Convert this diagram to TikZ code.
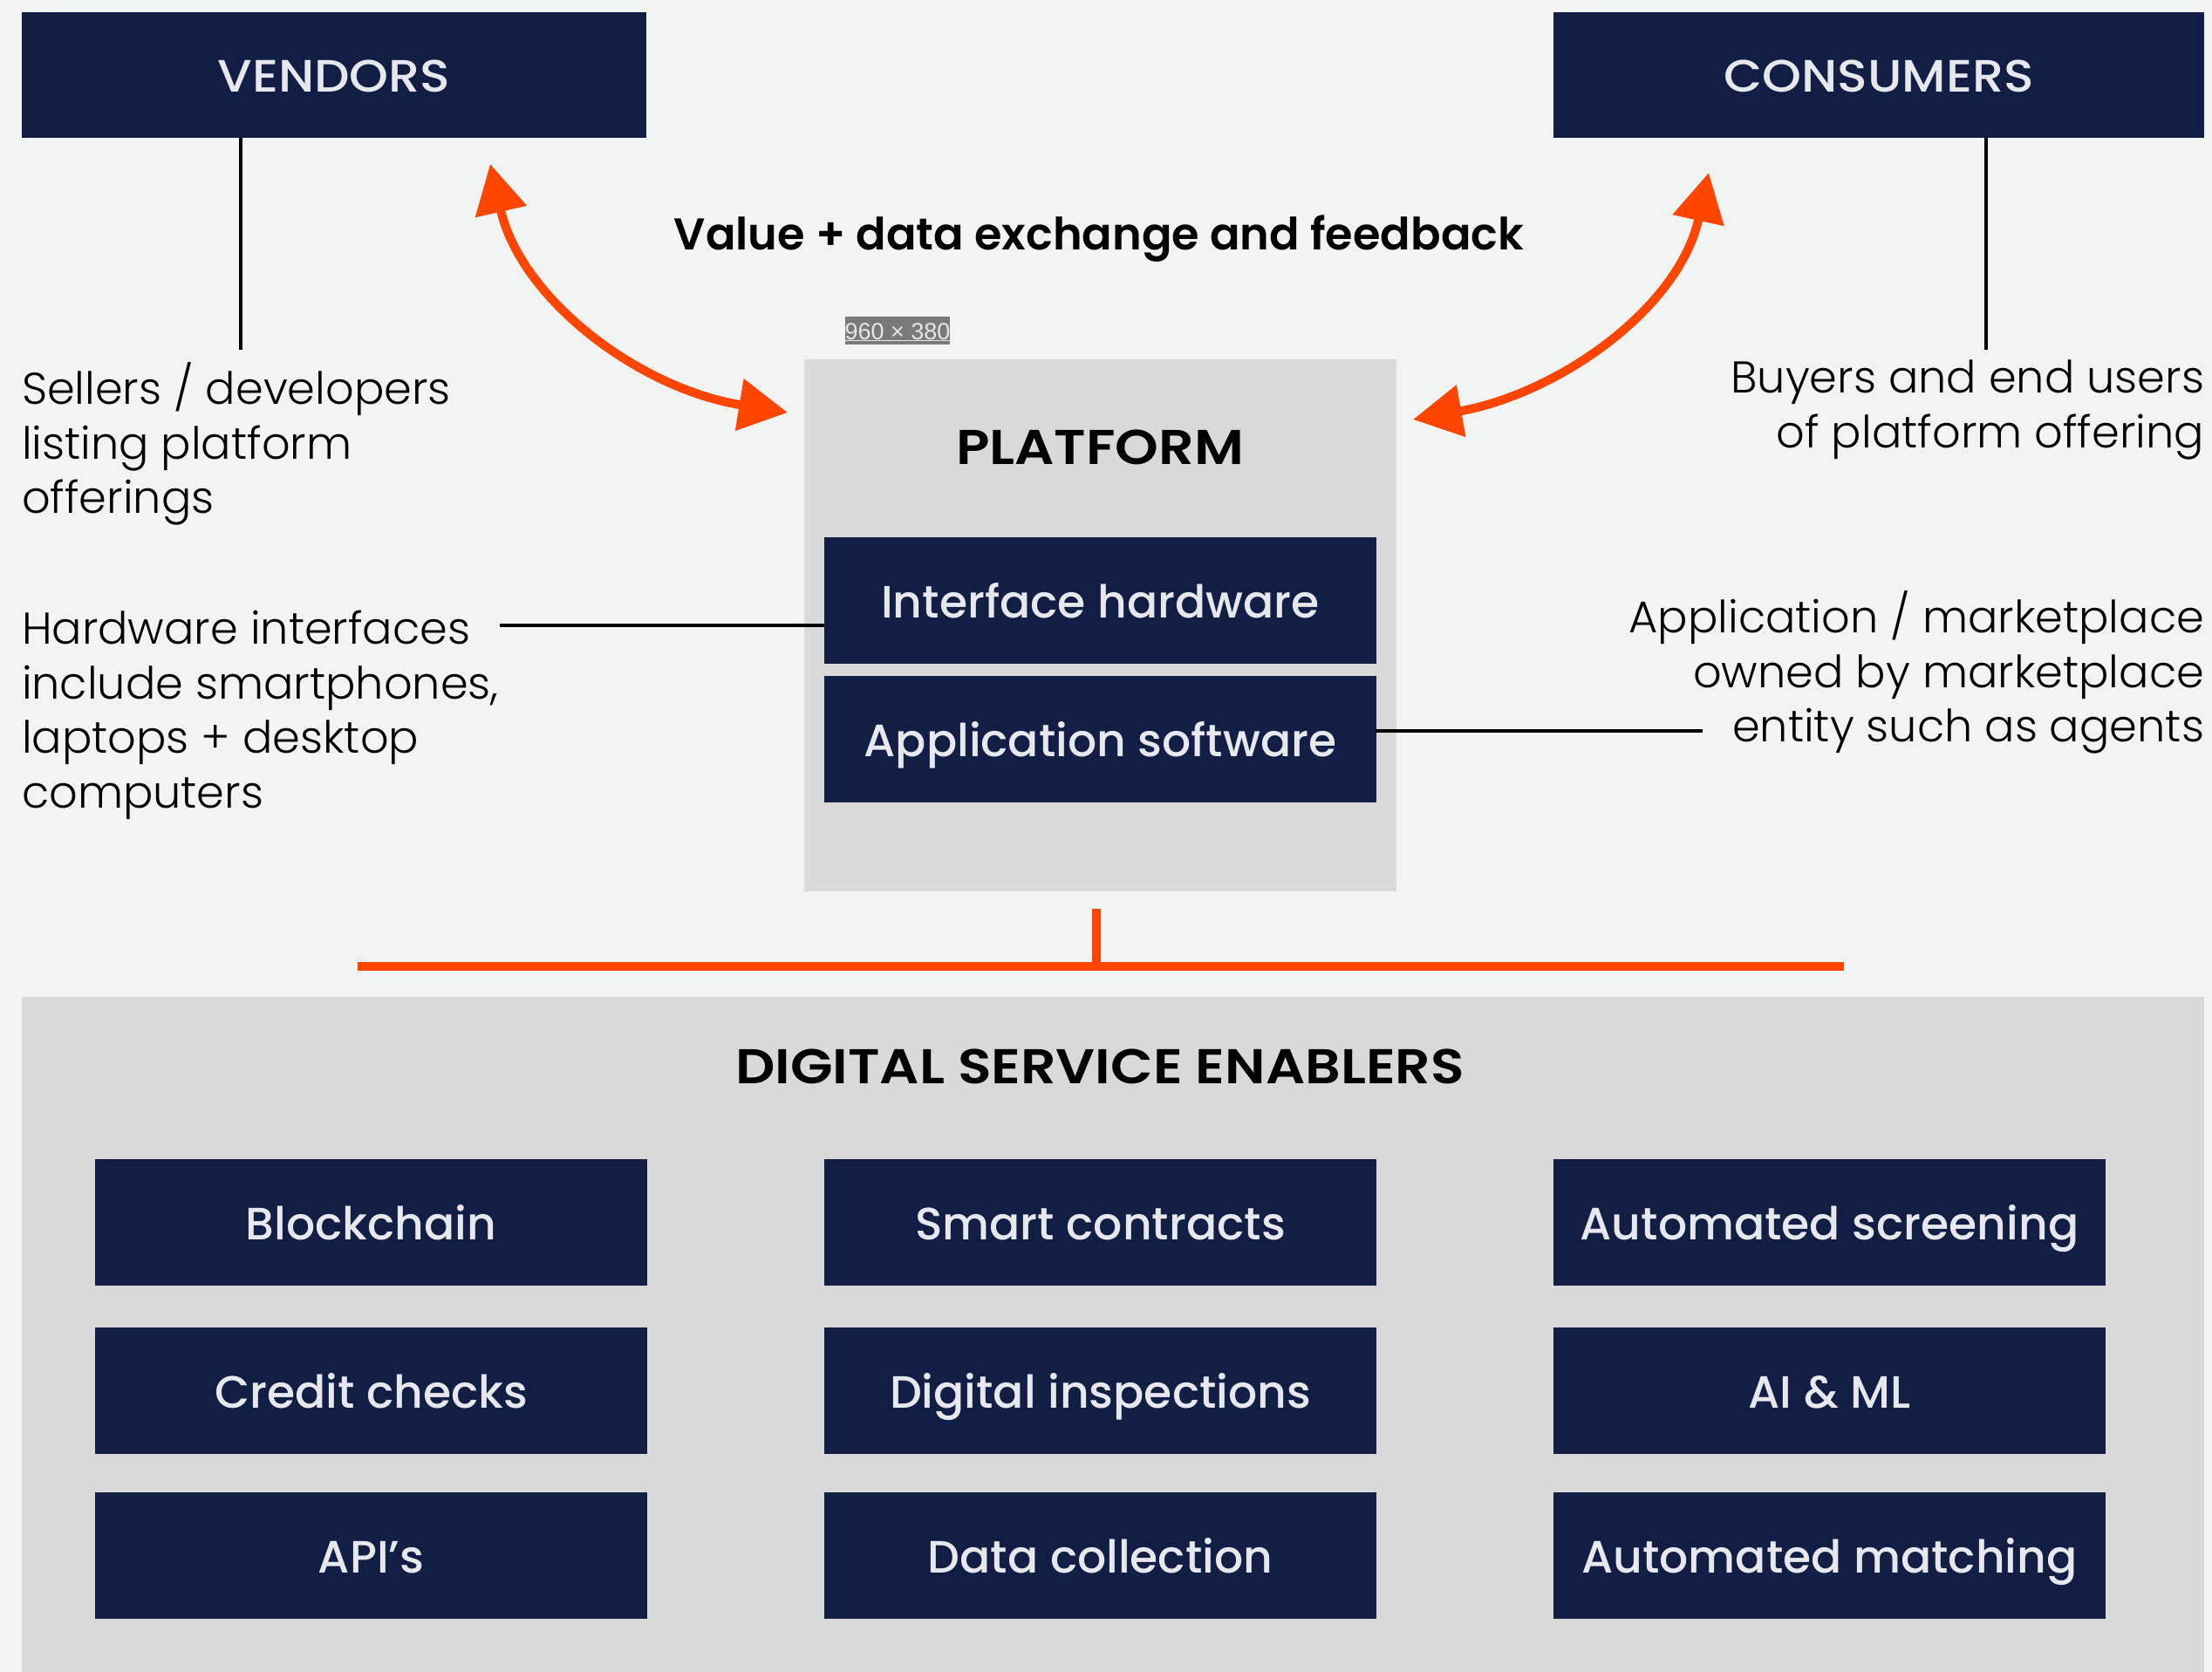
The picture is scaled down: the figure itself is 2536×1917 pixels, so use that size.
\documentclass[tikz,border=0pt]{standalone}
\usepackage{fontspec}
\usetikzlibrary{arrows.meta}
\setmainfont{Poppins}
\newfontfamily\fmed{Poppins Medium}
\newfontfamily\fmedwide[FakeStretch=1.1]{Poppins Medium}
\newfontfamily\fsemi{Poppins SemiBold}
\newfontfamily\fsemiwide[FakeStretch=1.13]{Poppins SemiBold}
\newfontfamily\flight{Poppins Light}
\newfontfamily\farial{Liberation Sans}
\definecolor{navy}{HTML}{131E45}
\definecolor{paper}{HTML}{F2F4F3}
\definecolor{panel}{HTML}{D9D9D9}
\definecolor{hot}{HTML}{FF4500}
\definecolor{cardtext}{HTML}{E6E8EE}
\definecolor{tagback}{HTML}{797B7A}
\tikzset{
 panelbox/.style={fill=panel,draw=none,inner sep=0,outer sep=0,anchor=north west},
 card/.style={fill=navy,draw=none,inner sep=0,outer sep=0,anchor=north west,text=cardtext,font=\fmed\fontsize{52}{58}\selectfont,align=center,text height=39pt,text depth=0pt,minimum width=633,minimum height=145},
 topcard/.style={card,font=\fmedwide\fontsize{52}{58}\selectfont},
 headline/.style={inner sep=0,outer sep=0,text=black,font=\fsemi\fontsize{51}{60}\selectfont,text height=36pt,text depth=0pt},
 capshead/.style={headline,font=\fsemiwide\fontsize{56}{60}\selectfont,text height=41pt},
 sidenote/.style={inner sep=0,outer sep=0,text=black,font=\flight\fontsize{51}{62.5}\selectfont},
 thin/.style={draw=black,line width=4.5},
 hotline/.style={draw=hot,line width=10,{Triangle[length=56,width=58]}-{Triangle[length=56,width=58]}},
 hotbar/.style={draw=hot,line width=10},
}
\begin{document}
\begin{tikzpicture}[x=1pt,y=-1pt]
\path[use as bounding box,fill=paper] (0,0) rectangle (2536,1917);
% panels
\node[panelbox,minimum width=679,minimum height=610] (platform) at (922,412) {};
\node[panelbox,minimum width=2502,minimum height=774] (enablers) at (25,1143) {};
% top cards
\node[topcard,minimum width=716,minimum height=144] (vendors) at (25,14) {VENDORS};
\node[topcard,minimum width=746,minimum height=144] (consumers) at (1781,14) {CONSUMERS};
\node[card] (iface) at (945,616) {Interface hardware};
\node[card] (appsw) at (945,775) {Application software};
% enabler cards
\node[card] (b11) at (109,1329) {Blockchain};
\node[card] (b12) at (945,1329) {Smart contracts};
\node[card] (b13) at (1781,1329) {Automated screening};
\node[card] (b21) at (109,1522) {Credit checks};
\node[card] (b22) at (945,1522) {Digital inspections};
\node[card] (b23) at (1781,1522) {AI \& ML};
\node[card] (b31) at (109,1711) {API’s};
\node[card] (b32) at (945,1711) {Data collection};
\node[card] (b33) at (1781,1711) {Automated matching};
% headlines
\node[headline] (exch) at (1260,268) {Value + data exchange and feedback};
\node[capshead] (ptitle) at (1261,512) {PLATFORM};
\node[capshead] (etitle) at (1261,1222) {DIGITAL SERVICE ENABLERS};
% dimension tag
\node[fill=tagback,text=white!90!black,inner sep=0,outer sep=0,minimum width=120,minimum height=32,font=\farial\fontsize{27}{30}\selectfont,text height=22pt,text depth=2pt] (tag) at (1029,379) {\underline{960 × 380}};
% side notes
\node[sidenote,anchor=north west,align=left] (n1) at (25,416) {Sellers / developers\\listing platform\\offerings};
\node[sidenote,anchor=north west,align=left] (n2) at (25,700) {Hardware interfaces\\include smartphones,\\laptops + desktop\\computers};
\node[sidenote,anchor=north east,align=right] (n3) at (2527,413) {Buyers and end users\\of platform offering};
\node[sidenote,anchor=north east,align=right] (n4) at (2527,678) {Application / marketplace\\owned by marketplace\\entity such as agents};
% thin connectors
\coordinate (v1) at (276,158); \coordinate (v2) at (276,401);
\coordinate (c1) at (2277,158); \coordinate (c2) at (2277,401);
\coordinate (h1) at (573,717); \coordinate (h2) at (945,717);
\coordinate (a1) at (1577,838); \coordinate (a2) at (1952,838);
\draw[thin] (v1) -- (v2);
\draw[thin] (c1) -- (c2);
\draw[thin] (h1) -- (h2);
\draw[thin] (a1) -- (a2);
% orange bars
\coordinate (s1) at (1257,1042); \coordinate (s2) at (1257,1113);
\coordinate (r1) at (410,1108); \coordinate (r2) at (2114,1108);
\draw[hotbar] (s1) -- (s2);
\draw[hotbar] (r1) -- (r2);
% curved arrows
\coordinate (la) at (562,188); \coordinate (lb) at (903,473);
\coordinate (ra) at (1959,198); \coordinate (rb) at (1620,481);
\draw[hotline] (la) .. controls (597,342) and (731,445) .. (lb);
\draw[hotline] (ra) .. controls (1925,353) and (1788,451) .. (rb);
\end{tikzpicture}
\end{document}
